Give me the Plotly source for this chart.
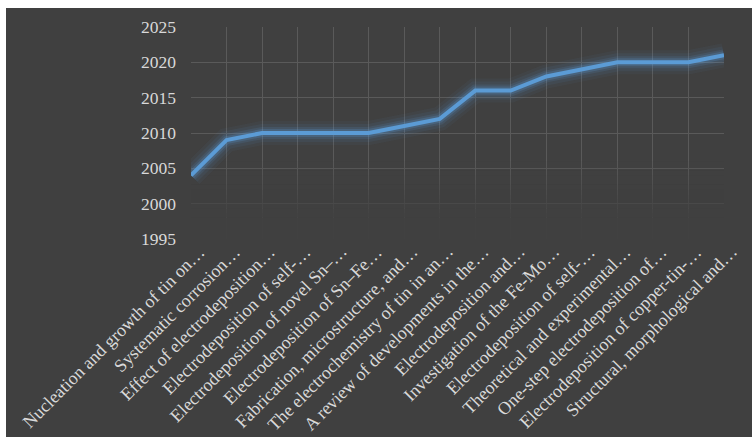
import plotly.graph_objects as go

labels = [
    "Nucleation and growth of tin on…",
    "Systematic corrosion…",
    "Effect of electrodeposition…",
    "Electrodeposition of self-…",
    "Electrodeposition of novel Sn–…",
    "Electrodeposition of Sn–Fe…",
    "Fabrication, microstructure, and…",
    "The electrochemistry of tin in an…",
    "A review of developments in the…",
    "Electrodeposition and…",
    "Investigation of the Fe-Mo…",
    "Electrodeposition of self-…",
    "Theoretical and experimental…",
    "One-step electrodeposition of…",
    "Electrodeposition of copper-tin-…",
    "Structural, morphological and…",
]
years = [2004, 2009, 2010, 2010, 2010, 2010, 2011, 2012, 2016, 2016,
         2018, 2019, 2020, 2020, 2020, 2021]
y_ticks = [1995, 2000, 2005, 2010, 2015, 2020, 2025]

W, H = 752, 437
L, R, T, B = 191, 28, 27, 198
BG = "#404040"
GRID = "#5a5a5a"
LINE = "#5B9BD5"
TXT = "#d9d9d9"
FONT = "Liberation Serif, Times New Roman, serif"

xs = list(range(len(labels)))
pw, ph = W - L - R, H - T - B

fig = go.Figure()
# glow layers
for w, a in [(24, 0.05), (18, 0.08), (12, 0.13), (8, 0.22)]:
    fig.add_trace(go.Scatter(x=xs, y=years, mode="lines",
                             line=dict(color=f"rgba(91,155,213,{a})", width=w),
                             hoverinfo="skip", showlegend=False))
fig.add_trace(go.Scatter(x=xs, y=years, mode="lines",
                         line=dict(color=LINE, width=4), showlegend=False))

shapes = []
# white page edge (screenshot crop)
shapes.append(dict(type="rect", xref="paper", yref="paper",
                   x0=-L / pw, x1=1 + R / pw, y0=-B / ph, y1=1 + T / ph,
                   fillcolor="white", line_width=0, layer="below"))
shapes.append(dict(type="rect", xref="paper", yref="paper",
                   x0=(6 - L) / pw, x1=1 + R / pw, y0=-B / ph, y1=1 + (T - 8) / ph,
                   fillcolor=BG, line_width=0, layer="below"))
# gridline fade toward the bottom (drawn above grid, below data)
n = 12
top, bot = 2006.0, 1998.0
step = (top - bot) / n
for i in range(n):
    shapes.append(dict(type="rect", xref="x", yref="y",
                       x0=-1, x1=len(labels), y0=top - (i + 1) * step, y1=top - i * step,
                       fillcolor=BG, opacity=(i + 1) / (n + 1), line_width=0, layer="between"))
shapes.append(dict(type="rect", xref="x", yref="y",
                   x0=-1, x1=len(labels), y0=1990, y1=bot,
                   fillcolor=BG, opacity=0.95, line_width=0, layer="between"))

annotations = []
for i, lab in enumerate(labels):
    annotations.append(dict(x=xs[i], xref="x", y=0, yref="paper", text=lab,
                            textangle=-45, xanchor="right", yanchor="top",
                            xshift=20, yshift=0, showarrow=False,
                            font=dict(family=FONT, size=18, color=TXT)))

fig.update_layout(
    width=W, height=H,
    margin=dict(l=L, r=R, t=T, b=B, pad=0),
    paper_bgcolor="white", plot_bgcolor=BG,
    font=dict(family=FONT, color=TXT),
    shapes=shapes, annotations=annotations,
    showlegend=False,
)
fig.update_xaxes(
    range=[0, len(labels) - 1], tickmode="array", tickvals=xs,
    showticklabels=False,
    showgrid=True, gridcolor=GRID, gridwidth=1.3, zeroline=False, showline=False,
    ticks="",
)
fig.update_yaxes(
    range=[1995, 2025], tickmode="array", tickvals=y_ticks,
    tickfont=dict(size=17.5, color=TXT),
    showgrid=True, gridcolor=GRID, gridwidth=1.3, zeroline=False, showline=False,
    ticks="", ticklabelstandoff=14,
)
fig.write_html("out.html")
